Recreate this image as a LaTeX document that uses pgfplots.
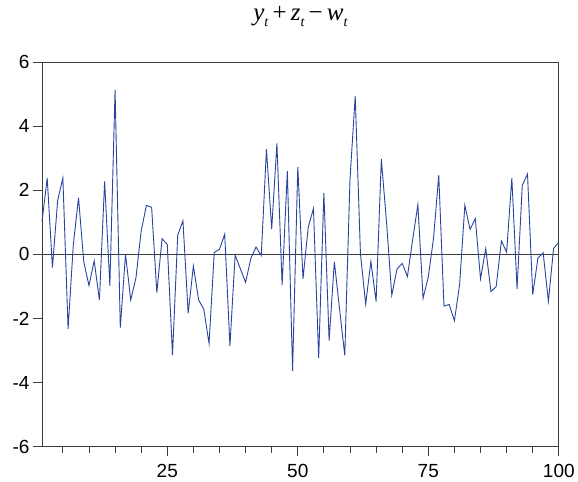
\documentclass[border=0pt]{standalone}
\usepackage{pgfplots}
\pgfplotsset{compat=1.18}
\usepackage{fontspec}
\setmainfont{Liberation Sans}
\newfontfamily\tnr{Liberation Serif}
\definecolor{serblue}{RGB}{40,68,158}
\definecolor{framegray}{RGB}{60,60,60}
\newcommand\sub[1]{\raisebox{-0.45ex}{\fontsize{14}{14}\selectfont #1}}

\begin{document}
\begin{tikzpicture}
\begin{axis}[
    at={(0,0)}, anchor=south west,
    scale only axis,
    width=517pt, height=385pt,
    xmin=1, xmax=100,
    ymin=-6, ymax=6,
    xtick={25,50,75,100},
    minor xtick={5,10,...,95},
    ytick={-6,-4,...,6},
    xtick pos=bottom, ytick pos=left,
    tick align=outside,
    major tick length=9pt,
    minor tick length=6pt,
    tick style={framegray, line width=0.8pt},
    axis line style={framegray, line width=0.9pt},
    tick label style={font=\fontsize{19}{19}\selectfont},
    xticklabel style={yshift=-5pt},
    /pgf/number format/assume math mode=true,
    title={\tnr\fontsize{25}{25}\selectfont\itshape y\sub{t}\,\upshape +\,\itshape z\sub{t}\,\upshape \textminus\,\itshape w\sub{t}},
    title style={at={(0.5,1)}, anchor=base, yshift=35pt, inner sep=0pt, text height=12pt, text depth=6pt},
    clip=false,
]
\addplot[framegray, line width=1.5pt, forget plot] coordinates {(1,0) (100,0)};
\addplot[serblue, line width=0.9pt, mark=none] coordinates {
(1,1.02) (2,2.38) (3,-0.41) (4,1.68) (5,2.38) (6,-2.32) (7,0.30) (8,1.77) (9,-0.23) (10,-0.97)
(11,-0.20) (12,-1.42) (13,2.28) (14,-0.98) (15,5.13) (16,-2.28) (17,0.00) (18,-1.42) (19,-0.73) (20,0.73)
(21,1.53) (22,1.47) (23,-1.19) (24,0.49) (25,0.31) (26,-3.14) (27,0.60) (28,1.05) (29,-1.84) (30,-0.36)
(31,-1.42) (32,-1.71) (33,-2.78) (34,0.06) (35,0.16) (36,0.63) (37,-2.85) (38,-0.02) (39,-0.45) (40,-0.87)
(41,-0.13) (42,0.23) (43,-0.04) (44,3.28) (45,0.79) (46,3.46) (47,-0.95) (48,2.60) (49,-3.63) (50,2.73)
(51,-0.76) (52,0.85) (53,1.43) (54,-3.23) (55,1.92) (56,-2.69) (57,-0.23) (58,-1.70) (59,-3.15) (60,2.35)
(61,4.94) (62,0.03) (63,-1.55) (64,-0.22) (65,-1.47) (66,2.97) (67,1.00) (68,-1.27) (69,-0.46) (70,-0.28)
(71,-0.69) (72,0.46) (73,1.55) (74,-1.37) (75,-0.70) (76,0.50) (77,2.47) (78,-1.61) (79,-1.56) (80,-2.07)
(81,-0.93) (82,1.53) (83,0.78) (84,1.12) (85,-0.76) (86,0.18) (87,-1.16) (88,-1.00) (89,0.42) (90,0.07)
(91,2.38) (92,-1.07) (93,2.15) (94,2.51) (95,-1.25) (96,-0.11) (97,0.05) (98,-1.46) (99,0.19) (100,0.38)
};
\end{axis}
\path (-42pt,-29pt) rectangle (536pt,447pt);
\end{tikzpicture}
\end{document}
